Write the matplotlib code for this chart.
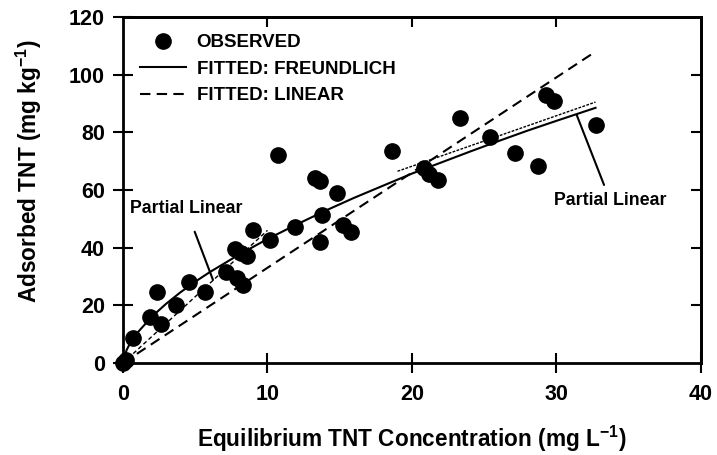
import matplotlib
matplotlib.use('Agg')
import matplotlib.pyplot as plt
from matplotlib.lines import Line2D

plt.rcParams['font.family'] = ['Liberation Sans', 'DejaVu Sans']
plt.rcParams['font.weight'] = 'bold'
plt.rcParams['mathtext.fontset'] = 'custom'
plt.rcParams['mathtext.rm'] = 'Liberation Sans:bold'
plt.rcParams['mathtext.it'] = 'Liberation Sans:bold'
plt.rcParams['mathtext.bf'] = 'Liberation Sans:bold'

obs_x = [0.0, 0.2, 0.7, 1.9, 2.35, 2.6, 3.7, 4.6, 5.7, 7.1, 7.75, 8.2, 7.9, 8.3, 8.6,
         9.0, 10.2, 10.7, 11.9, 13.3, 13.6, 13.8, 13.6, 14.8, 15.2, 15.8, 18.6,
         20.8, 21.2, 21.8, 23.3, 25.4, 27.1, 28.7, 29.3, 29.8, 32.7]
obs_y = [0.0, 1.0, 8.5, 16.0, 24.5, 13.5, 20.0, 28.0, 24.5, 31.5, 39.5, 38.0, 29.5, 27.0, 37.0,
         46.0, 42.5, 72.0, 47.0, 64.0, 63.0, 51.5, 42.0, 59.0, 48.0, 45.5, 73.5,
         67.5, 65.5, 63.5, 85.0, 78.5, 73.0, 68.5, 93.0, 91.0, 82.5]

# Freundlich fitted curve
fr_x = [0, 0.25, 0.5, 1, 2, 3, 4, 5, 6, 8, 10, 12, 14, 16, 18, 20, 22, 24, 26, 28, 30, 32.7]
fr_y = [0, 4.5, 6.9, 10.5, 16.1, 20.6, 24.6, 28.2, 31.5, 37.5, 43.0, 48.0, 52.8, 57.3,
        61.5, 65.7, 69.5, 73.3, 77.0, 80.6, 84.0, 88.5]

# linear fit
lin_x = [0, 32.7]
lin_y = [0, 108.0]

# partial linear segments
pl_low_x = [0, 10.0]
pl_low_y = [0, 46.0]
pl_high_x = [19.0, 32.7]
pl_high_y = [66.5, 90.5]

fig = plt.figure(figsize=(7.17, 4.55), dpi=100)
ax = fig.add_axes([0.1715, 0.2022, 0.8062, 0.7604])

ax.plot(fr_x, fr_y, color='black', lw=1.5)
ax.plot(lin_x, lin_y, color='black', lw=1.5, dashes=(5, 3))
ax.plot(pl_low_x, pl_low_y, color='black', lw=1.0, dashes=(3, 2))
ax.plot(pl_high_x, pl_high_y, color='black', lw=1.0, dashes=(2, 1))
ax.plot(obs_x, obs_y, 'o', color='black', ms=11, clip_on=False, zorder=5)

# annotations
ax.annotate('Partial Linear', xy=(6.23, 28.8), xytext=(4.36, 53.5),
            fontsize=12.8, fontweight='bold', ha='center', va='center',
            arrowprops=dict(arrowstyle='-', color='black', lw=1.5,
                            shrinkA=9, shrinkB=0))
ax.annotate('Partial Linear', xy=(31.4, 86.0), xytext=(33.7, 56.5),
            fontsize=12.8, fontweight='bold', ha='center', va='center',
            arrowprops=dict(arrowstyle='-', color='black', lw=1.5,
                            shrinkA=3, shrinkB=0))

ax.set_xlim(0, 40)
ax.set_ylim(0, 120)
ax.set_xticks([0, 10, 20, 30, 40])
ax.set_yticks([0, 20, 40, 60, 80, 100, 120])

for s in ax.spines.values():
    s.set_linewidth(2)
ax.tick_params(axis='both', which='major', direction='inout', length=14, width=1.5,
               labelsize=15.5, top=False, right=False)
ax.tick_params(axis='x', pad=8)
ax.tick_params(axis='y', pad=6)

sx = ax.secondary_xaxis('top')
sx.set_xticks([10, 20, 30])
sx.tick_params(direction='in', length=7, width=1.5, labeltop=False)
sy = ax.secondary_yaxis('right')
sy.set_yticks([20, 40, 60, 80, 100])
sy.tick_params(direction='in', length=7, width=1.5, labelright=False)
for s in list(sx.spines.values()) + list(sy.spines.values()):
    s.set_linewidth(2)

ax.set_xlabel(r'Equilibrium TNT Concentration (mg L$^{-1}$)', fontsize=16.3, fontweight='bold')
ax.set_ylabel(r'Adsorbed TNT (mg kg$^{-1}$)', fontsize=16.3, fontweight='bold')
ax.xaxis.set_label_coords(0.5, -0.176)
ax.yaxis.set_label_coords(-0.136, 0.555)

handles = [Line2D([], [], marker='o', color='black', ls='none', ms=11),
           Line2D([], [], color='black', lw=1.5),
           Line2D([], [], color='black', lw=1.5, dashes=(5, 3))]
labels = ['OBSERVED', 'FITTED: FREUNDLICH', 'FITTED: LINEAR']
ax.legend(handles, labels, loc='upper left', bbox_to_anchor=(0.03, 0.95),
          frameon=False, handlelength=2.45, handletextpad=0.55,
          labelspacing=0.5, borderpad=0, borderaxespad=0,
          prop={'weight': 'bold', 'size': 13.5})

fig.savefig('out.png', dpi=100, facecolor='white')
